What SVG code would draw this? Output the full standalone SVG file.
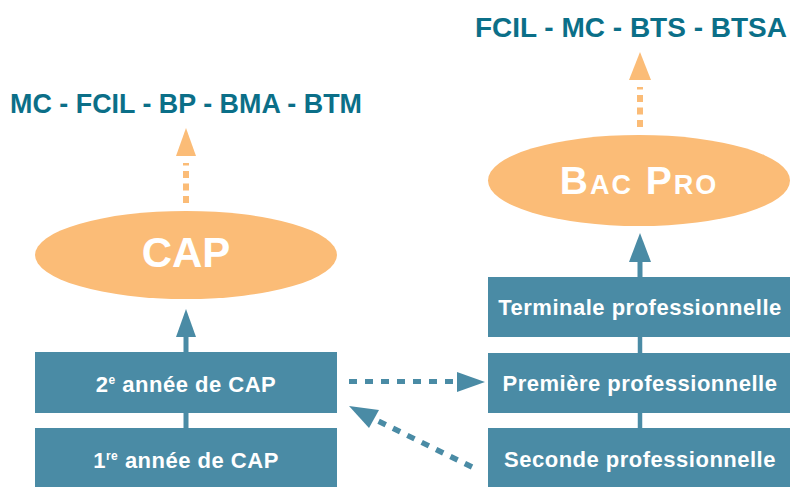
<svg xmlns="http://www.w3.org/2000/svg" width="790" height="487" viewBox="0 0 790 487">
  <style>
    .box { fill: #4a8ba5; }
    .oval { fill: #fbbc77; }
    .bt { font-family: "Liberation Sans", Arial, sans-serif; font-weight: bold; font-size: 22px; fill: #ffffff; text-anchor: middle; letter-spacing: 0.5px; }
    .ot { font-family: "Liberation Sans", Arial, sans-serif; font-weight: bold; fill: #ffffff; text-anchor: middle; }
    .hd { font-family: "Liberation Sans", Arial, sans-serif; font-weight: bold; font-size: 28px; fill: #0b6f88; }
    .bl { stroke: #4a8ba5; fill: none; }
    .bf { fill: #4a8ba5; }
    .ol { stroke: #fbbc77; fill: none; }
    .of { fill: #fbbc77; }
  </style>
  <rect width="790" height="487" fill="#ffffff"/>

  <g id="connectors">
    <!-- left column solid -->
    <line class="bl" x1="186" y1="336" x2="186" y2="353" stroke-width="5"/>
    <polygon class="bf" points="176,337 196,337 186,309"/>
    <line class="bl" x1="186" y1="412" x2="186" y2="429" stroke-width="5"/>
    <!-- left orange dashed -->
    <line class="ol" x1="186" y1="203" x2="186" y2="163" stroke-width="6" stroke-dasharray="7 5.5"/>
    <polygon class="of" points="176,156 196,156 186,128"/>
    <!-- right column solid -->
    <line class="bl" x1="640" y1="261" x2="640" y2="278" stroke-width="5"/>
    <polygon class="bf" points="629,262 651,262 640,233"/>
    <line class="bl" x1="640" y1="336" x2="640" y2="354" stroke-width="4.5"/>
    <line class="bl" x1="640" y1="412" x2="640" y2="429" stroke-width="4.5"/>
    <!-- right orange dashed -->
    <line class="ol" x1="640" y1="127" x2="640" y2="87" stroke-width="6" stroke-dasharray="7 5.5"/>
    <polygon class="of" points="629,80 651,80 640,52"/>
    <!-- horizontal dashed -->
    <line class="bl" x1="349" y1="381.5" x2="453" y2="381.5" stroke-width="5" stroke-dasharray="8 8"/>
    <polygon class="bf" points="457,372 485,382 457,392"/>
    <!-- diagonal dashed -->
    <line class="bl" x1="472" y1="467" x2="378" y2="421" stroke-width="5.5" stroke-dasharray="8 8"/>
    <polygon class="bf" points="349,406 379,410 369,428"/>
  </g>

  <g id="n-mc">
    <text class="hd" x="10" y="113" textLength="352" lengthAdjust="spacingAndGlyphs">MC - FCIL - BP - BMA - BTM</text>
  </g>
  <g id="n-fcil">
    <text class="hd" x="787" y="37" font-size="23.8" text-anchor="end">FCIL - MC - BTS - BTSA</text>
  </g>

  <g id="n-cap">
    <ellipse class="oval" cx="186" cy="255" rx="151" ry="44"/>
    <text class="ot" x="186" y="267" font-size="42">CAP</text>
  </g>
  <g id="n-bacpro">
    <ellipse class="oval" cx="639" cy="180.5" rx="151" ry="45.5"/>
    <text class="ot" x="639" y="194" font-size="39" letter-spacing="2">B<tspan font-size="27">AC</tspan> P<tspan font-size="27">RO</tspan></text>
  </g>

  <g id="n-cap2">
    <rect class="box" x="35" y="352" width="302" height="61"/>
    <text class="bt" x="186" y="392">2<tspan font-size="12" dy="-8">e</tspan><tspan dy="8"> année de CAP</tspan></text>
  </g>
  <g id="n-cap1">
    <rect class="box" x="35" y="428" width="302" height="70"/>
    <text class="bt" x="186" y="468">1<tspan font-size="12" dy="-8">re</tspan><tspan dy="8"> année de CAP</tspan></text>
  </g>

  <g id="n-terminale">
    <rect class="box" x="488" y="277" width="310" height="60"/>
    <text class="bt" x="640" y="315">Terminale professionnelle</text>
  </g>
  <g id="n-premiere">
    <rect class="box" x="488" y="353" width="310" height="60"/>
    <text class="bt" x="640" y="391">Première professionnelle</text>
  </g>
  <g id="n-seconde">
    <rect class="box" x="488" y="428" width="310" height="70"/>
    <text class="bt" x="640" y="467">Seconde professionnelle</text>
  </g>
</svg>
